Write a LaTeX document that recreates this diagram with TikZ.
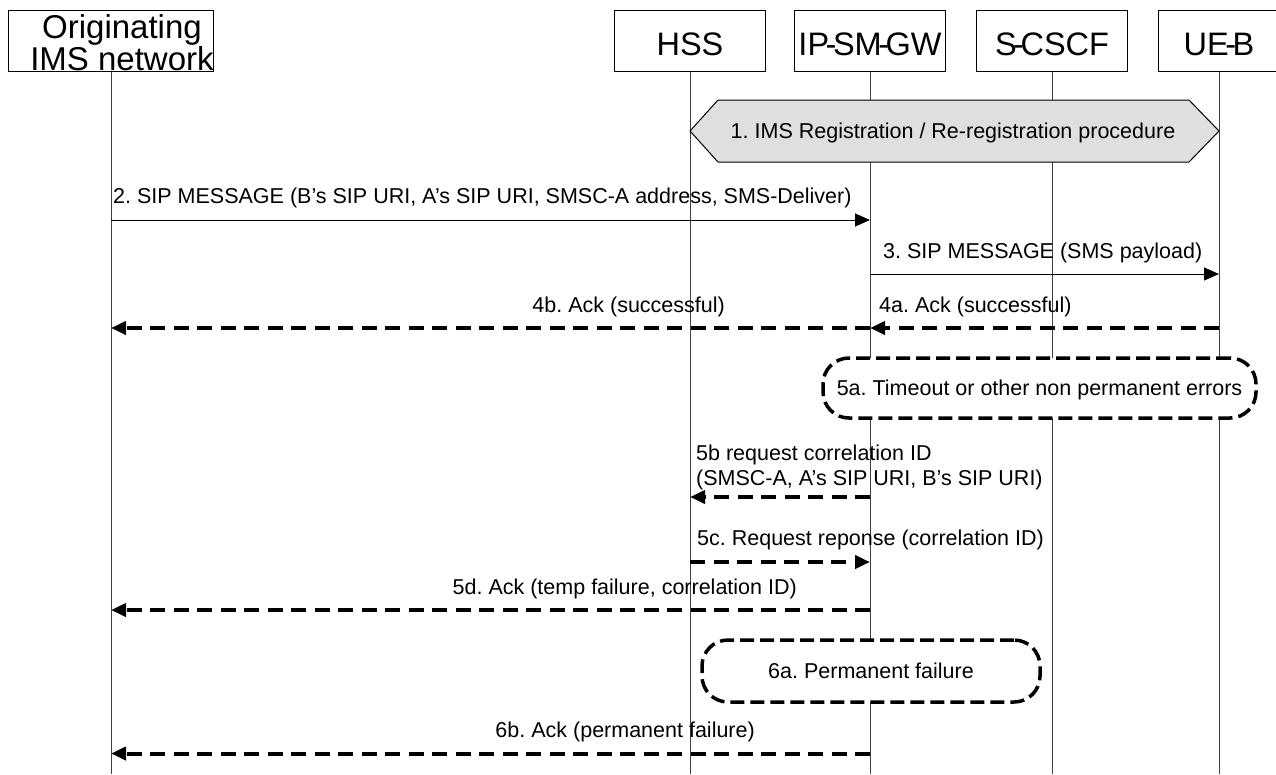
\documentclass[tikz,border=0pt]{standalone}
\usepackage{fontspec}
\setmainfont{Liberation Sans}
\usetikzlibrary{arrows.meta}
\newcommand{\boxhyph}{\kern-3.5pt-\kern-3.5pt}

\begin{document}
\frenchspacing
\begin{tikzpicture}[x=1pt, y=-1pt,
		entity/.style = {draw, fill=white, line width=1pt, minimum width=151pt, minimum height=61pt, inner sep=0pt, text height=29pt, text depth=0pt, font=\fontsize{32.5}{30}\selectfont},
		lifeline/.style = {line width=1pt, black!75},
		msg/.style = {line width=1pt, -{Triangle[length=15pt, width=13pt]}},
		reply/.style = {line width=4pt, dash pattern=on 15pt off 8.5pt, -{Triangle[length=15pt, width=13pt]}},
		txt/.style = {anchor=base west, inner sep=0pt, font=\fontsize{21.5}{25}\selectfont},
		note/.style = {draw, fill=white, line width=3.5pt, dash pattern=on 14pt off 6pt, rounded corners=26pt, inner sep=0pt, text height=15pt, text depth=0pt, font=\fontsize{21.5}{25}\selectfont}]
		\clip (0,0) rectangle (1276,774);
		\coordinate (bottom) at (0,774);

		\node [entity, minimum width=205pt] (orig) at (111,40.5) {};
		\node [anchor=base, inner sep=0pt, align=center, font=\fontsize{33}{30}\selectfont] (origname) at (122,70) {Originating\\IMS network};
		\node [entity] (hss) at (690,40.5) {HSS};
		\node [entity] (gw) at (870,40.5) {IP\boxhyph SM\boxhyph GW};
		\node [entity] (cscf) at (1052,40.5) {S\boxhyph CSCF};
		\node [entity, minimum width=122pt] (ue) at (1219,40.5) {UE\boxhyph B};

		\foreach \n in {orig, hss, gw, cscf, ue}
			\draw [lifeline] (\n.south) -- (\n.south |- bottom);

		\draw [line width=1pt, fill=gray!25] (hss |- 0,131) -- (718,100) -- (1189,100) -- (ue |- 0,131) -- (1189,162) -- (718,162) -- cycle;
		\node [txt, anchor=base] (reg) at (953,138.5) {1. IMS Registration / Re-registration procedure};

		\node [txt] (m2) at (113,203.5) {2. SIP MESSAGE (B’s SIP URI, A’s SIP URI, SMSC-A address, SMS-Deliver)};
		\draw [msg] (orig |- 0,220) -- (gw |- 0,220);

		\node [txt] (m3) at (883,258) {3. SIP MESSAGE (SMS payload)};
		\draw [msg] (gw |- 0,274) -- (ue |- 0,274);

		\node [txt] (m4a) at (879,312.5) {4a. Ack (successful)};
		\node [txt, anchor=base east] (m4b) at (725,312.5) {4b. Ack (successful)};
		\draw [reply] (ue |- 0,328) -- (gw |- 0,328);
		\draw [reply] (gw |- 0,328) -- (orig |- 0,328);

		\node [note, minimum width=433pt, minimum height=60pt] (tmo) at (1039.5,388) {5a. Timeout or other non permanent errors};

		\node [txt, align=left] (m5b) at (696,485.5) {5b request correlation ID\\(SMSC-A, A’s SIP URI, B’s SIP URI)};
		\draw [reply] (gw |- 0,497) -- (hss |- 0,497);

		\node [txt] (m5c) at (697,545.5) {5c. Request reponse (correlation ID)};
		\draw [reply] (hss |- 0,562) -- (gw |- 0,562);

		\node [txt, anchor=base east] (m5d) at (797,594) {5d. Ack (temp failure, correlation ID)};
		\draw [reply] (gw |- 0,610) -- (orig |- 0,610);

		\node [note, minimum width=338pt, minimum height=62pt] (perm) at (871,671) {6a. Permanent failure};

		\node [txt, anchor=base east] (m6b) at (755,737.5) {6b. Ack (permanent failure)};
		\draw [reply] (gw |- 0,753.5) -- (orig |- 0,753.5);
	\end{tikzpicture}
\end{document}
